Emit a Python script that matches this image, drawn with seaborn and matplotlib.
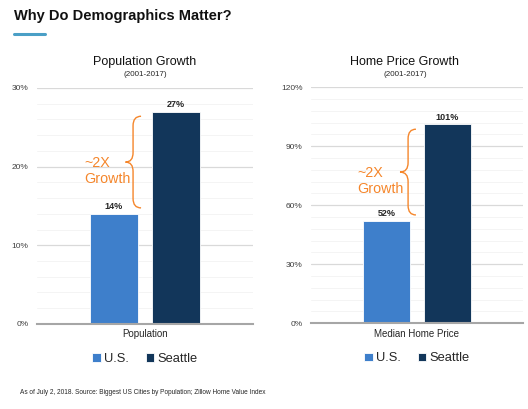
import matplotlib
matplotlib.use("Agg")
import matplotlib.pyplot as plt
import seaborn as sns
import pandas as pd
from matplotlib.path import Path
from matplotlib.patches import PathPatch
from matplotlib.ticker import MultipleLocator, FuncFormatter
import matplotlib.transforms as mtransforms

# data
regions = ["U.S.", "Seattle"]
pop_metric = ["Population"]
pop_values = [14, 27]
home_metric = ["Median Home Price"]
home_values = [52, 101]

colors = {"U.S.": "#3e7fcb", "Seattle": "#12365a"}
orange = "#f5862b"

sns.set_theme(style="white")
plt.rcParams["font.family"] = ["Liberation Sans", "DejaVu Sans"]


def draw_brace(ax, xs, xe, xt, y0, y1, r):
    """Curly brace '{' : spine at xs (axes frac), ends curl to xe, tip at xt."""
    ym = (y0 + y1) / 2
    verts = [(xe, y1), (xs, y1), (xs, y1 - r),
             (xs, ym + r),
             (xs, ym), (xt, ym),
             (xs, ym), (xs, ym - r),
             (xs, y0 + r),
             (xs, y0), (xe, y0)]
    codes = [Path.MOVETO, Path.CURVE3, Path.CURVE3,
             Path.LINETO,
             Path.CURVE3, Path.CURVE3,
             Path.CURVE3, Path.CURVE3,
             Path.LINETO,
             Path.CURVE3, Path.CURVE3]
    trans = mtransforms.blended_transform_factory(ax.transAxes, ax.transData)
    ax.add_patch(PathPatch(Path(verts, codes), fill=False, edgecolor=orange,
                           lw=1.0, transform=trans, clip_on=False))


def panel(ax, metric, values, ymax, major, minor, brace_x, brace_r, text_x):
    df = pd.DataFrame({"metric": metric * len(regions), "region": regions, "value": values})
    sns.barplot(data=df, x="metric", y="value", hue="region", palette=colors,
                width=0.575, gap=0.22, ax=ax, saturation=1, edgecolor="white", linewidth=0.6)
    ax.set_xlim(-0.5, 0.5)
    ax.set_ylim(0, ymax)
    ax.yaxis.set_major_locator(MultipleLocator(major))
    ax.yaxis.set_minor_locator(MultipleLocator(minor))
    ax.yaxis.set_major_formatter(FuncFormatter(lambda v, p: f"{v:.0f}%"))
    ax.grid(axis="y", which="major", color="#d9d9d9", lw=0.9)
    ax.grid(axis="y", which="minor", color="#f2f2f2", lw=0.6)
    ax.set_axisbelow(True)
    for s in ["top", "right", "left"]:
        ax.spines[s].set_visible(False)
    ax.spines["bottom"].set_color("#a6a6a6")
    ax.spines["bottom"].set_linewidth(1.5)
    ax.tick_params(axis="y", which="both", length=0, labelsize=6, labelcolor="#404040", pad=6)
    ax.tick_params(axis="x", length=0, labelsize=7, labelcolor="#262626", pad=4)
    ax.set_xlabel("")
    ax.set_ylabel("")
    for c in ax.containers:
        ax.bar_label(c, fmt="%d%%", fontsize=6.5, fontweight="bold", color="#262626", padding=2)
    # ~2X brace between the two bar tops
    us, sea = values
    y0 = us + ymax * 0.025
    y1 = sea - ymax * 0.02
    xs, xe, xt = brace_x
    draw_brace(ax, xs, xe, xt, y0, y1, brace_r)
    ym = (y0 + y1) / 2
    ax.text(text_x, ym - ymax * 0.037, "~2X\nGrowth", color=orange, fontsize=10.3,
            ha="left", va="center", multialignment="left", linespacing=1.15,
            transform=mtransforms.blended_transform_factory(ax.transAxes, ax.transData))
    handles, labels = ax.get_legend_handles_labels()
    ax.legend(handles, labels, loc="upper center", bbox_to_anchor=(0.5, -0.075), ncol=2,
              frameon=False, fontsize=9.3, handlelength=0.65, handleheight=0.65,
              handletextpad=0.25, columnspacing=1.3)


fig = plt.figure(figsize=(5.28, 4.09), dpi=100)
ax1 = fig.add_axes([0.070, 0.208, 0.409, 0.577])
ax2 = fig.add_axes([0.589, 0.210, 0.4015, 0.577])

panel(ax1, pop_metric, pop_values, 30, 10, 2, (0.445, 0.482, 0.41), 1.2, 0.218)
panel(ax2, home_metric, home_values, 120, 30, 6, (0.458, 0.495, 0.42), 4.8, 0.217)

fig.text(0.026, 0.962, "Why Do Demographics Matter?", fontsize=10.5, fontweight="bold",
         color="#111111", va="center", ha="left")
fig.add_artist(plt.Line2D([0.027, 0.085], [0.918, 0.918], color="#4a9fc6", lw=2.2))

fig.text(145 / 528, 1 - 62 / 409, "Population Growth", fontsize=9, ha="center", va="center", color="#111111")
fig.text(145 / 528, 1 - 74 / 409, "(2001-2017)", fontsize=5.8, ha="center", va="center", color="#262626")
fig.text(405 / 528, 1 - 62 / 409, "Home Price Growth", fontsize=9, ha="center", va="center", color="#111111")
fig.text(405 / 528, 1 - 74 / 409, "(2001-2017)", fontsize=5.8, ha="center", va="center", color="#262626")

fig.text(20 / 528, 1 - 392 / 409,
         "As of July 2, 2018. Source: Biggest US Cities by Population; Zillow Home Value Index",
         fontsize=4.7, ha="left", va="center", color="#262626")

fig.savefig("out.png", dpi=100)
